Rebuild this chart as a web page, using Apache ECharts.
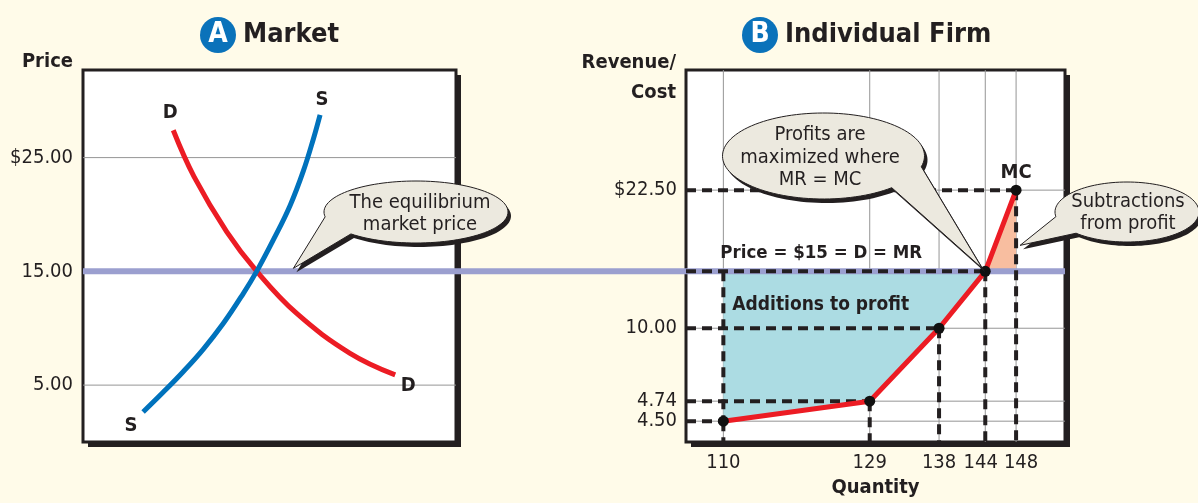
<!DOCTYPE html>
<html><head><meta charset="utf-8">
<script src="https://cdn.jsdelivr.net/npm/echarts@6/dist/echarts.min.js"></script>
<style>html,body{margin:0;padding:0;background:#fffbe9;}#c{width:1198px;height:503px;}</style>
</head><body><div id="c"></div>
<script>
// ---------- Data ----------
// Panel A: market demand (D) and supply (S) curves (quantity in arbitrary units)
const demandQty   = [24.2, 29.8, 38.5, 46.6, 57.3, 71.6, 83.7];
const demandPrice = [27.4, 23.3, 18.5, 15.0, 11.3, 7.8, 5.9];
const supplyQty   = [16.11, 21.48, 26.85, 32.22, 37.59, 42.96, 46.56, 51.02, 55.50, 59.08, 61.76, 63.56];
const supplyPrice = [2.64, 4.37, 6.18, 8.15, 10.41, 13.05, 15.00, 17.76, 20.77, 23.83, 26.64, 28.76];
const marketPriceTicks = [5, 15, 25];
const marketPrice = 15;
// Panel B: individual firm
const firmQty = [110, 129, 138, 144, 148];
const firmMC  = [4.50, 4.74, 10.00, 15.00, 22.50];
const firmCostTicks = [4.50, 4.74, 10.00, 22.50];
const firmPrice = 15;
// The firm's cost axis is drawn schematically (not to scale): anchor values -> axis units
const costScaleReal = [0, 4.50, 4.74, 10, 15, 22.5, 32.7];
const costScaleAxis = [0, 1.83, 3.59, 10, 15, 22.14, 32.7];

// ---------- Helpers ----------
const FONT = "'DejaVu Sans Condensed', 'DejaVu Sans', sans-serif";
const INK = '#231f20';
const YMAX = 32.7, X1MIN = 105.15, X1MAX = 154.35;
function costPos(v) {
  for (let i = 1; i < costScaleReal.length; i++) {
    if (v <= costScaleReal[i]) {
      const r0 = costScaleReal[i-1], r1 = costScaleReal[i], a0 = costScaleAxis[i-1], a1 = costScaleAxis[i];
      return a0 + (v - r0) / (r1 - r0) * (a1 - a0);
    }
  }
  return costScaleAxis[costScaleAxis.length-1];
}
function segSeries(name, xi, yi, rows, style, z) {
  return {
    type: 'custom', name, xAxisIndex: xi, yAxisIndex: yi, z, silent: true, clip: false,
    data: rows, encode: {x: [0, 2], y: [1, 3]},
    renderItem: (params, api) => {
      const p1 = api.coord([api.value(0), api.value(1)]);
      const p2 = api.coord([api.value(2), api.value(3)]);
      return {type: 'line', shape: {x1: p1[0], y1: p1[1], x2: p2[0], y2: p2[1]},
              style: Object.assign({fill: null}, style)};
    }
  };
}
function polySeries(name, pts, fill, z) {
  return {
    type: 'custom', name, xAxisIndex: 1, yAxisIndex: 1, z, silent: true,
    data: [pts[0]],
    renderItem: (params, api) => ({type: 'polygon', shape: {points: pts.map(p => api.coord(p))}, style: {fill}})
  };
}

const P = costPos(firmPrice);
const firmPts = firmQty.map((q, i) => [q, costPos(firmMC[i])]);
const belowIdx = firmMC.map((c, i) => i).filter(i => firmMC[i] <= firmPrice);
const aboveIdx = firmMC.map((c, i) => i).filter(i => firmMC[i] >= firmPrice);
const profitPoly = [[firmQty[0], P]].concat(belowIdx.slice().reverse().map(i => firmPts[i]));
const lossPoly = aboveIdx.map(i => firmPts[i]).concat([[firmQty[firmQty.length-1], P]]);

const gridA = marketPriceTicks.map(t => [0, t, 100, t]);
const gridB = firmQty.map(q => [q, 0, q, YMAX]).concat(firmCostTicks.map(c => [X1MIN, costPos(c), X1MAX, costPos(c)]));
const dashRows = [];
firmPts.forEach(p => { dashRows.push([X1MIN, p[1], p[0], p[1]]); dashRows.push([p[0], p[1], p[0], 0]); });
dashRows.push([firmQty[0], P, firmQty[0], costPos(firmMC[0])]);

const tickFont = {fontFamily: FONT, fontSize: 20, color: INK};
const boldFont = {fontFamily: FONT, fontSize: 20, fontWeight: 'bold', color: INK, textBorderWidth: 0, opacity: 1};
const shadowStyle = {show: true, backgroundColor: '#ffffff', borderWidth: 0,
                     shadowColor: INK, shadowOffsetX: 5, shadowOffsetY: 5, shadowBlur: 0};
const borderStyle = {show: true, backgroundColor: 'transparent', borderColor: INK, borderWidth: 3};
const rectA = {left: 83, top: 70, width: 373, height: 372};
const rectB = {left: 686, top: 70, width: 379, height: 372};
const hiddenAxis = gi => ({type: 'value', gridIndex: gi, min: 0, max: 1, show: false});

const chart = echarts.init(document.getElementById('c'));
const badge = {width: 36, height: 36, lineHeight: 36, borderRadius: 18, backgroundColor: '#0a72ba', color: '#fff',
               fontFamily: FONT, fontSize: 28, fontWeight: 'bold', align: 'center', verticalAlign: 'middle'};
const ttl = {fontFamily: FONT, fontSize: 27, fontWeight: 'bold', color: INK, padding: [0, 0, 0, 7], verticalAlign: 'middle'};
const option = {
  backgroundColor: '#fffbe9',
  animation: false,
  title: [
    {text: '{b|A}{t|Market}', left: 195, top: 12, textStyle: {rich: {b: badge, t: ttl}}},
    {text: '{b|B}{t|Individual Firm}', left: 737, top: 12, textStyle: {rich: {b: badge, t: ttl}}}
  ],
  grid: [
    Object.assign({}, rectA, shadowStyle),
    Object.assign({}, rectB, shadowStyle),
    {left: 83, top: 70, width: 982, height: 372, show: false},
    Object.assign({}, rectA, borderStyle),
    Object.assign({}, rectB, borderStyle)
  ],
  xAxis: [
    {type: 'value', gridIndex: 0, min: 0, max: 100, axisLine: {show: false}, axisTick: {show: false},
     axisLabel: {show: false}, splitLine: {show: false}},
    {type: 'value', gridIndex: 1, min: X1MIN, max: X1MAX, axisLine: {show: false}, axisTick: {show: false},
     splitLine: {show: false},
     name: 'Quantity', nameLocation: 'middle', nameGap: 36, nameTextStyle: boldFont,
     axisLabel: Object.assign({customValues: firmQty, margin: 11,
       formatter: v => {
         const i = firmQty.indexOf(v), s = String(v);
         if (i < firmQty.length - 1 && firmQty[i+1] - v < 5) return '{l|' + s + '}';
         if (i > 0 && v - firmQty[i-1] < 5) return '{r|' + s + '}';
         return s;
       },
       rich: {l: Object.assign({padding: [0, 9, 0, 0]}, tickFont), r: Object.assign({padding: [0, 0, 0, 10]}, tickFont)}
     }, tickFont)},
    hiddenAxis(2), hiddenAxis(3), hiddenAxis(4)
  ],
  yAxis: [
    {type: 'value', gridIndex: 0, min: 0, max: YMAX, axisLine: {show: false}, axisTick: {show: false},
     splitLine: {show: false},
     name: 'Price', nameLocation: 'end', nameGap: 8,
     nameTextStyle: Object.assign({align: 'right', verticalAlign: 'middle', padding: [0, 10, 0, 0]}, boldFont),
     axisLabel: Object.assign({customValues: marketPriceTicks, margin: 10,
       formatter: v => (v === Math.max(...marketPriceTicks) ? '$' : '') + v.toFixed(2)}, tickFont)},
    {type: 'value', gridIndex: 1, min: 0, max: YMAX, axisLine: {show: false}, axisTick: {show: false},
     splitLine: {show: false},
     name: 'Revenue/\nCost', nameLocation: 'end', nameGap: -8,
     nameTextStyle: Object.assign({align: 'right', verticalAlign: 'middle', lineHeight: 30, padding: [0, 10, 0, 0]}, boldFont),
     axisLabel: Object.assign({customValues: firmCostTicks.map(costPos), margin: 9,
       formatter: v => {
         let best = 0;
         firmCostTicks.forEach((c, i) => { if (Math.abs(costPos(c) - v) < Math.abs(costPos(firmCostTicks[best]) - v)) best = i; });
         const c = firmCostTicks[best];
         return (c === Math.max(...firmCostTicks) ? '$' : '') + c.toFixed(2);
       }}, tickFont)},
    {type: 'value', gridIndex: 2, min: 0, max: YMAX, show: false},
    hiddenAxis(3), hiddenAxis(4)
  ],
  series: [
    segSeries('gridA', 0, 0, gridA, {stroke: '#959595', lineWidth: 1}, 1),
    segSeries('gridB', 1, 1, gridB, {stroke: '#959595', lineWidth: 1}, 1),
    polySeries('Additions to profit', profitPoly, '#acdce3', 2),
    polySeries('Subtractions from profit', lossPoly, '#f8bea0', 2),
    {type: 'line', name: 'Price', xAxisIndex: 2, yAxisIndex: 2, z: 3, silent: true,
     data: [[0, marketPrice], [1, marketPrice]], symbol: 'none',
     lineStyle: {color: '#9b9fcf', width: 6, cap: 'butt'}},
    segSeries('dashes', 1, 1, dashRows, {stroke: INK, lineWidth: 4, lineDash: [10, 6], lineCap: 'butt'}, 4),
    {type: 'line', name: 'D', xAxisIndex: 0, yAxisIndex: 0, z: 5, smooth: 0.4, symbol: 'none',
     data: demandQty.map((q, i) => [q, demandPrice[i]]), lineStyle: {color: '#ec1c24', width: 5, cap: 'butt'}},
    {type: 'line', name: 'S', xAxisIndex: 0, yAxisIndex: 0, z: 5, smooth: 0.4, symbol: 'none',
     data: supplyQty.map((q, i) => [q, supplyPrice[i]]), lineStyle: {color: '#0072bc', width: 5, cap: 'butt'}},
    {type: 'scatter', name: 'curve labels', xAxisIndex: 0, yAxisIndex: 0, z: 6, symbolSize: 0, silent: true,
     itemStyle: {opacity: 1},
     label: Object.assign({show: true, position: 'inside'}, boldFont),
     data: [
       {value: [demandQty[0], demandPrice[0]], label: {formatter: 'D', offset: [-3, -17]}},
       {value: [demandQty[demandQty.length-1], demandPrice[demandPrice.length-1]], label: {formatter: 'D', offset: [13, 11]}},
       {value: [supplyQty[supplyQty.length-1], supplyPrice[supplyPrice.length-1]], label: {formatter: 'S', offset: [2, -15]}},
       {value: [supplyQty[0], supplyPrice[0]], label: {formatter: 'S', offset: [-12, 14]}}
     ]},
    {type: 'line', name: 'MC', xAxisIndex: 1, yAxisIndex: 1, z: 6, symbol: 'circle', symbolSize: 11,
     showAllSymbol: true, data: firmPts.map((p, i) => i === firmPts.length - 1
        ? {value: p, label: Object.assign({show: true, formatter: 'MC', position: 'top', distance: 2}, boldFont)} : p),
     itemStyle: {color: '#111'}, lineStyle: {color: '#ec1c24', width: 5}},
    {type: 'scatter', name: 'panel labels', xAxisIndex: 1, yAxisIndex: 1, z: 7, symbolSize: 0, silent: true,
     itemStyle: {opacity: 1},
     data: [
       {value: [firmQty[0], P], label: Object.assign({show: true, position: 'inside', align: 'left',
          formatter: 'Price = $' + firmPrice + ' = D = MR', offset: [-3, -18]}, boldFont, {fontSize: 18.5})},
       {value: [firmQty[0], P], label: Object.assign({show: true, position: 'inside', align: 'left',
          formatter: 'Additions to profit', offset: [9, 34]}, boldFont, {fontSize: 19})}
     ]}
  ]
};
chart.setOption(option);

// ---------- Callouts ----------
function bubble(cx, cy, rx, ry, a1, a2, tip) {
  const pts = [tip];
  for (let a = a1; a <= a2 + 0.01; a += 3) {
    const t = a * Math.PI / 180;
    pts.push([cx + rx * Math.cos(t), cy + ry * Math.sin(t)]);
  }
  return pts;
}
function calloutEls(pts, text, tx, ty) {
  return [
    {type: 'polygon', z: 20, silent: true, shape: {points: pts.map(p => [p[0] + 3, p[1] + 4])}, style: {fill: INK}},
    {type: 'polygon', z: 21, silent: true, shape: {points: pts}, style: {fill: '#ece9df', stroke: INK, lineWidth: 1}},
    {type: 'text', z: 22, silent: true, x: tx, y: ty,
     style: {text, fill: INK, fontFamily: FONT, fontSize: 20, lineHeight: 22.5,
             align: 'center', verticalAlign: 'middle', textAlign: 'center', textVerticalAlign: 'middle'}}
  ];
}
const eq = chart.convertToPixel({gridIndex: 0}, [56.4, marketPrice]);
const mx = chart.convertToPixel({gridIndex: 1}, firmPts[belowIdx[belowIdx.length - 1]]);
const lastQ = chart.convertToPixel({gridIndex: 1}, [firmQty[firmQty.length - 1], costPos(17.4)]);
chart.setOption({graphic: [].concat(
  calloutEls(bubble(416, 212, 92, 31, 171, 495, [eq[0], eq[1] - 3]), 'The equilibrium\nmarket price', 420, 214),
  calloutEls(bubble(823.5, 156, 101, 43, 47.5, 374.7, [mx[0] - 3, mx[1] - 3]), 'Profits are\nmaximized where\nMR = MC', 820, 157.5),
  calloutEls(bubble(1127, 212, 72, 30, 171, 496, [lastQ[0] + 4, lastQ[1]]), 'Subtractions\nfrom profit', 1128, 213)
)});
</script></body></html>
